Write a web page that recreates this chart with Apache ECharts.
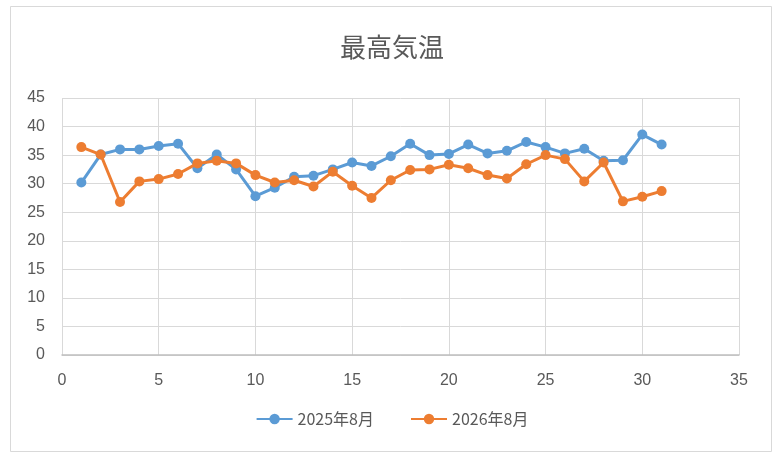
<!DOCTYPE html>
<html><head><meta charset="utf-8">
<script src="https://cdn.jsdelivr.net/npm/echarts@6/dist/echarts.min.js"></script>
<style>html,body{margin:0;padding:0;background:#fff}#c{width:784px;height:460px}</style>
</head><body><div id="c"></div>
<script>
const days = [1,2,3,4,5,6,7,8,9,10,11,12,13,14,15,16,17,18,19,20,21,22,23,24,25,26,27,28,29,30,31];
const temps2025 = [30.2,35.1,36.0,36.0,36.6,37.0,32.7,35.1,32.5,27.8,29.3,31.2,31.4,32.5,33.7,33.1,34.8,37.0,35.0,35.2,36.85,35.3,35.75,37.3,36.4,35.3,36.1,34.0,34.1,38.6,36.85];
const temps2026 = [36.4,35.1,26.8,30.4,30.8,31.7,33.55,34.0,33.55,31.5,30.2,30.6,29.5,32.1,29.65,27.5,30.6,32.4,32.5,33.3,32.7,31.5,30.9,33.4,35.0,34.3,30.4,33.7,26.9,27.7,28.7];
const seriesNames = ['2025年8月','2026年8月'];
const titleText = '最高気温';

const chart = echarts.init(document.getElementById('c'));
const pairs = arr => days.map((d,i)=>[d, arr[i]]);
const font = '"Liberation Sans","Noto Sans CJK JP",sans-serif';
const cjk = '"Noto Sans CJK JP","Liberation Sans",sans-serif';
chart.setOption({
  animation:false,
  backgroundColor:'#fff',
  graphic:[{type:'rect',shape:{x:10.5,y:6.5,width:761,height:445},style:{fill:'none',stroke:'#d9d9d9',lineWidth:1},silent:true}],
  title:{text:titleText,left:'center',top:29,textStyle:{fontFamily:cjk,fontSize:26,fontWeight:'normal',color:'#595959'}},
  legend:{bottom:28,left:'center',itemWidth:36,itemHeight:13,itemGap:36,
    textStyle:{fontFamily:cjk,fontSize:16,color:'#595959'},data:seriesNames},
  grid:{left:62,right:45,top:98,bottom:105,containLabel:false},
  xAxis:{type:'value',min:0,max:35,interval:5,
    axisLine:{show:true,lineStyle:{color:'#bfbfbf',width:1.5}},
    axisTick:{show:false},
    axisLabel:{fontFamily:font,fontSize:16,color:'#595959',margin:18},
    splitLine:{show:true,lineStyle:{color:'#d9d9d9',width:1}}},
  yAxis:{type:'value',min:0,max:45,interval:5,
    axisLine:{show:false},axisTick:{show:false},
    axisLabel:{fontFamily:font,fontSize:16,color:'#595959',margin:17},
    splitLine:{show:true,lineStyle:{color:'#d9d9d9',width:1}}},
  series:[
    {name:seriesNames[0],type:'line',data:pairs(temps2025),symbol:'circle',symbolSize:10,
     lineStyle:{color:'#5B9BD5',width:3},itemStyle:{color:'#5B9BD5'},z:2},
    {name:seriesNames[1],type:'line',data:pairs(temps2026),symbol:'circle',symbolSize:10,
     lineStyle:{color:'#ED7D31',width:3},itemStyle:{color:'#ED7D31'},z:3}
  ]
});
</script></body></html>
